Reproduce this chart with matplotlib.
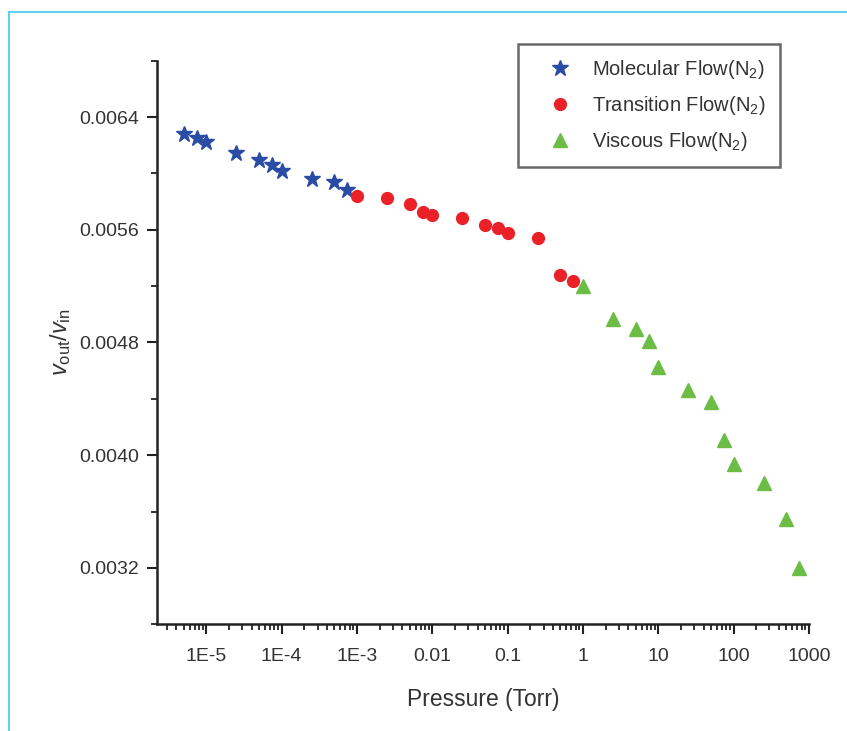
import matplotlib.pyplot as plt
from matplotlib.lines import Line2D
from matplotlib.ticker import FixedLocator, FixedFormatter, LogLocator, NullFormatter

plt.rcParams['font.family'] = ['Liberation Sans', 'DejaVu Sans']
plt.rcParams['mathtext.fontset'] = 'custom'
plt.rcParams['mathtext.rm'] = 'Liberation Sans'
plt.rcParams['mathtext.it'] = 'Liberation Sans:italic'

# pressure (Torr) and velocity ratio for each flow regime
molecular_p = [5e-6, 7.5e-6, 1e-5, 2.5e-5, 5e-5, 7.5e-5, 1e-4, 2.5e-4, 5e-4, 7.5e-4]
molecular_v = [0.006282, 0.006249, 0.006223, 0.006145, 0.006097, 0.006062,
               0.006015, 0.005962, 0.005939, 0.005884]

transition_p = [1e-3, 2.5e-3, 5e-3, 7.5e-3, 0.01, 0.025, 0.05, 0.075, 0.1, 0.25, 0.5, 0.75]
transition_v = [0.005840, 0.005823, 0.005785, 0.005728, 0.005707, 0.005683,
                0.005634, 0.005615, 0.005577, 0.005544, 0.005279, 0.005236]

viscous_p = [1, 2.5, 5, 7.5, 10, 25, 50, 75, 100, 250, 500, 750]
viscous_v = [0.005201, 0.004965, 0.004898, 0.004811, 0.004626, 0.004463,
             0.004380, 0.004108, 0.003940, 0.003803, 0.003550, 0.003202]

x_ticks = [1e-5, 1e-4, 1e-3, 1e-2, 1e-1, 1, 10, 100, 1000]
x_tick_labels = ['1E-5', '1E-4', '1E-3', '0.01', '0.1', '1', '10', '100', '1000']
y_ticks = [0.0032, 0.0040, 0.0048, 0.0056, 0.0064]
y_tick_labels = ['0.0032', '0.0040', '0.0048', '0.0056', '0.0064']
y_minor = [0.0028, 0.0036, 0.0044, 0.0052, 0.0060, 0.0068]

fig = plt.figure(figsize=(8.47, 7.31), dpi=100)
ax = fig.add_axes([0.185, 0.146, 0.770, 0.771])

ax.plot(molecular_p, molecular_v, linestyle='none', marker='*', ms=12,
        color='#2b4ca4', label='Molecular Flow(N$_2$)')
ax.plot(transition_p, transition_v, linestyle='none', marker='o', ms=8.5,
        color='#ea2127', label='Transition Flow(N$_2$)')
ax.plot(viscous_p, viscous_v, linestyle='none', marker='^', ms=10,
        color='#6bbd45', label='Viscous Flow(N$_2$)')

ax.set_xscale('log')
ax.set_xlim(2.2e-6, 1000)
ax.set_ylim(0.0028, 0.0068)

ax.xaxis.set_major_locator(FixedLocator(x_ticks))
ax.xaxis.set_major_formatter(FixedFormatter(x_tick_labels))
ax.xaxis.set_minor_locator(LogLocator(base=10, subs=range(2, 10), numticks=20))
ax.xaxis.set_minor_formatter(NullFormatter())
ax.yaxis.set_major_locator(FixedLocator(y_ticks))
ax.yaxis.set_major_formatter(FixedFormatter(y_tick_labels))
ax.yaxis.set_minor_locator(FixedLocator(y_minor))

for side in ['top', 'right']:
    ax.spines[side].set_visible(False)
for side in ['left', 'bottom']:
    ax.spines[side].set_linewidth(1.8)
    ax.spines[side].set_color('#222222')

ax.tick_params(which='major', direction='out', length=7, width=1.5, color='#222222',
               labelsize=14, labelcolor='#333333')
ax.tick_params(which='minor', direction='out', length=4.5, width=1.3, color='#222222')
ax.tick_params(axis='x', which='major', pad=10)
ax.tick_params(axis='y', which='major', pad=6)

ax.set_xlabel('Pressure (Torr)', fontsize=16.5, color='#333333', labelpad=17)
ax.set_ylabel(r'$\mathit{v}_{\mathrm{out}}/\mathit{v}_{\mathrm{in}}$', fontsize=17,
              color='#333333', labelpad=4)

leg = ax.legend(loc='upper right', bbox_to_anchor=(0.9555, 1.030), fontsize=14.5,
                frameon=True, fancybox=False, borderpad=0.7, labelspacing=0.65,
                handletextpad=0.2, handlelength=2.8, borderaxespad=0)
leg.get_frame().set_edgecolor('#444444')
leg.get_frame().set_linewidth(1.8)
for txt in leg.get_texts():
    txt.set_color('#333333')

# thin cyan frame along the top and left of the figure
fig.add_artist(Line2D([0.011, 1.0], [0.984, 0.984], transform=fig.transFigure,
                      color='#5fd0ef', linewidth=1.5))
fig.add_artist(Line2D([0.011, 0.011], [0.0, 0.984], transform=fig.transFigure,
                      color='#5fd0ef', linewidth=1.5))

fig.savefig('out.png', dpi=100)
